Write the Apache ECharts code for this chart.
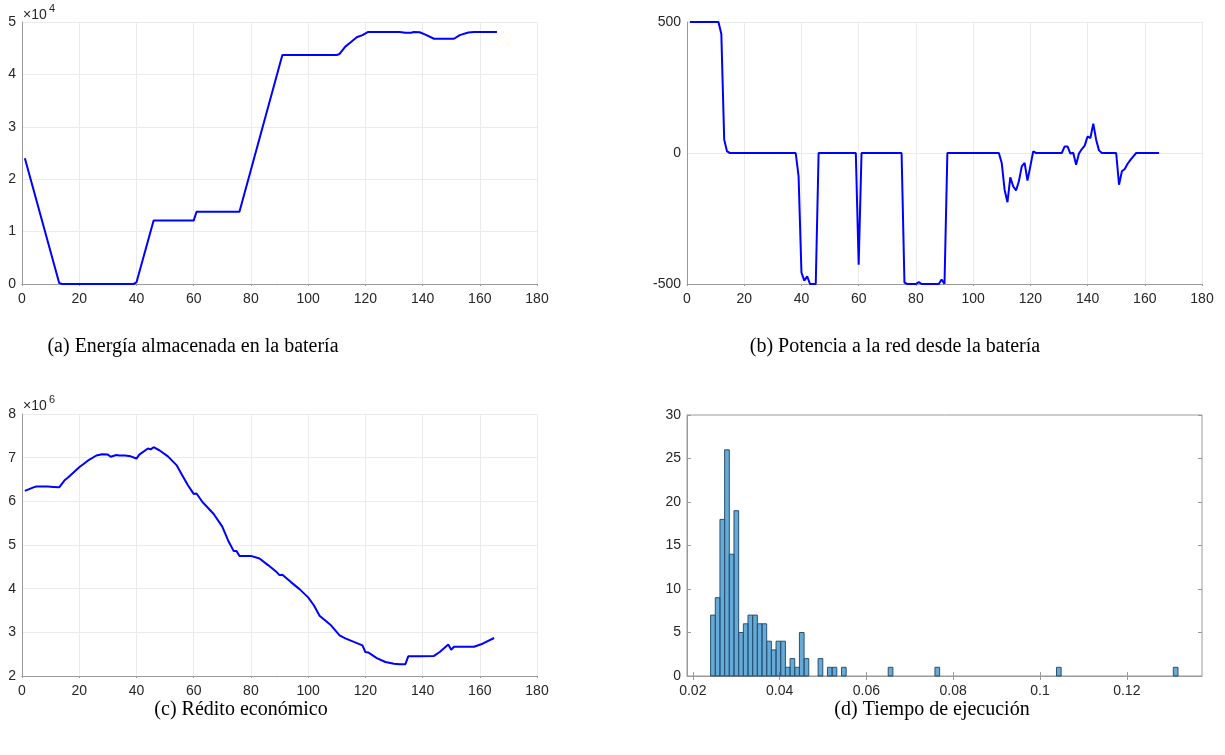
<!DOCTYPE html>
<html>
<head>
<meta charset="utf-8">
<script src="https://cdn.jsdelivr.net/npm/echarts@6/dist/echarts.min.js"></script>
<style>
html,body{margin:0;padding:0;background:#fff;}
#chart{width:1225px;height:755px;}
</style>
</head>
<body>
<div id="chart"></div>
<script>
// (a) Energía almacenada en la batería  (values in units of 10^4)
const energyX = [1, 13, 14, 39, 40, 46, 60, 61, 76, 91, 110, 111, 113, 115, 117, 119, 121, 132, 134, 136, 137, 139, 141, 144, 151, 153, 156, 158, 166];
const energyY = [2.40, 0.02, 0, 0, 0.03, 1.21, 1.21, 1.38, 1.38, 4.37, 4.37, 4.39, 4.53, 4.62, 4.71, 4.75, 4.81, 4.81, 4.795, 4.795, 4.81, 4.805, 4.76, 4.68, 4.68, 4.75, 4.80, 4.81, 4.81];

// (b) Potencia a la red desde la batería
const powerX = [1, 11, 12, 13, 14, 15, 38, 39, 40, 41, 42, 43, 45, 46, 59, 60, 61, 75, 76, 77, 80, 81, 82, 88, 89, 90, 91, 109, 110, 111, 112, 113, 114, 115, 116, 117, 118, 119, 120, 121, 122, 131, 132, 133, 134, 135, 136, 137, 138, 139, 140, 141, 142, 143, 144, 145, 150, 151, 152, 153, 154, 155, 156, 157, 165];
const powerY = [500, 500, 454, 51, 6, 0, 0, -89, -456, -487, -471, -500, -500, 0, 0, -426, 0, 0, -495, -500, -500, -493, -500, -500, -483, -500, 0, 0, -38, -140, -188, -93, -127, -143, -108, -51, -38, -105, -51, 6, 0, 0, 25, 25, -2, 1, -45, -2, 15, 28, 63, 57, 112, 51, 10, 0, 0, -121, -70, -61, -41, -26, -13, 0, 0];

// (c) Rédito económico (values in units of 10^6)
const profitX = [1, 4, 5, 9, 11, 13, 15, 16, 20, 23, 26, 28, 30, 31, 33, 34, 36, 38, 40, 41, 44, 45, 46, 48, 51, 54, 56, 58, 60, 61, 63, 67, 70, 72, 74, 75, 76, 80, 83, 86, 89, 90, 91, 94, 97, 100, 102, 104, 108, 111, 113, 116, 119, 120, 121, 124, 127, 130, 132, 134, 135, 139, 144, 146, 149, 150, 151, 158, 161, 165];
const profitY = [6.24, 6.32, 6.34, 6.34, 6.33, 6.32, 6.49, 6.54, 6.78, 6.93, 7.05, 7.08, 7.07, 7.02, 7.06, 7.05, 7.05, 7.03, 6.98, 7.07, 7.21, 7.19, 7.24, 7.17, 7.03, 6.83, 6.60, 6.37, 6.17, 6.18, 5.99, 5.71, 5.42, 5.11, 4.86, 4.86, 4.75, 4.75, 4.69, 4.54, 4.38, 4.31, 4.32, 4.15, 3.99, 3.80, 3.62, 3.38, 3.16, 2.93, 2.86, 2.78, 2.70, 2.55, 2.54, 2.41, 2.32, 2.28, 2.27, 2.27, 2.45, 2.45, 2.46, 2.55, 2.72, 2.60, 2.67, 2.67, 2.74, 2.87];

// (d) Tiempo de ejecución: histogram
const HIST_FIRST_EDGE = 0.0241;
const HIST_BIN_WIDTH = 0.001077;
const histBinIndex = [0, 1, 2, 3, 4, 5, 6, 7, 8, 9, 10, 11, 12, 13, 14, 15, 16, 17, 18, 19, 20, 23, 25, 26, 28, 38, 48, 74, 99];
const histCounts   = [7, 9, 18, 26, 14, 19, 5, 6, 7, 7, 6, 6, 4, 3, 4, 4, 1, 2, 1, 5, 2, 2, 1, 1, 1, 1, 1, 1, 1];
const histTicks = [0.02, 0.04, 0.06, 0.08, 0.1, 0.12];

const captions = ['(a) Energía almacenada en la batería', '(b) Potencia a la red desde la batería', '(c) Rédito económico', '(d) Tiempo de ejecución'];

const AX = '#9a9a9a', GRIDC = '#ebebeb', TXT = '#262626';
const LBL = {color: TXT, fontSize: 14, fontFamily: 'Liberation Sans, Arial, sans-serif'};

function lineX(gi) {
  return {type: 'value', gridIndex: gi, min: 0, max: 180, interval: 20,
    axisLine: {show: true, onZero: false, lineStyle: {color: AX}},
    axisTick: {show: true, inside: false, length: 2, lineStyle: {color: AX}},
    splitLine: {show: true, lineStyle: {color: GRIDC}},
    axisLabel: Object.assign({margin: 8}, LBL)};
}
function lineY(gi, min, max, interval) {
  return {type: 'value', gridIndex: gi, min: min, max: max, interval: interval,
    axisLine: {show: true, onZero: false, lineStyle: {color: AX}},
    axisTick: {show: false},
    splitLine: {show: true, lineStyle: {color: GRIDC}},
    axisLabel: Object.assign({margin: 6}, LBL)};
}
function pairs(xs, ys) { return xs.map((x, i) => [x, ys[i]]); }
const lineStyle = {color: '#0000ff', width: 2};

const histData = histBinIndex.map((b, i) => [HIST_FIRST_EDGE + b * HIST_BIN_WIDTH, HIST_FIRST_EDGE + (b + 1) * HIST_BIN_WIDTH, histCounts[i]]);

const chart = echarts.init(document.getElementById('chart'), null, {renderer: 'canvas'});
const capFont = '20px "Liberation Serif", "DejaVu Serif", serif';
const expFont = '14px "Liberation Sans", Arial, sans-serif';
const supFont = '11px "Liberation Sans", Arial, sans-serif';
const option = {
  animation: false,
  backgroundColor: '#ffffff',
  grid: [
    {left: 22, top: 22, width: 515, height: 262},
    {left: 687, top: 22, width: 515, height: 262},
    {left: 22, top: 414, width: 515, height: 262},
    {left: 687, top: 415, width: 515, height: 261, show: true, borderColor: AX, borderWidth: 1}
  ],
  xAxis: [
    lineX(0), lineX(1), lineX(2),
    {type: 'value', gridIndex: 3, min: 0.01866, max: 0.13733,
      axisLine: {show: true, onZero: false, lineStyle: {color: AX}},
      axisTick: {show: true, inside: true, length: 4, customValues: histTicks, lineStyle: {color: AX}},
      splitLine: {show: false},
      axisLabel: Object.assign({margin: 8, customValues: histTicks, formatter: v => String(+v.toFixed(2))}, LBL)},
    {type: 'value', gridIndex: 3, position: 'top', min: 0.01866, max: 0.13733,
      axisLine: {show: false}, splitLine: {show: false}, axisLabel: {show: false},
      axisTick: {show: true, inside: true, length: 4, customValues: histTicks, lineStyle: {color: AX}}}
  ],
  yAxis: [
    lineY(0, 0, 5, 1), lineY(1, -500, 500, 500), lineY(2, 2, 8, 1),
    {type: 'value', gridIndex: 3, min: 0, max: 30, interval: 5,
      axisLine: {show: true, onZero: false, lineStyle: {color: AX}},
      axisTick: {show: true, inside: true, length: 4, lineStyle: {color: AX}},
      splitLine: {show: false},
      axisLabel: Object.assign({margin: 6}, LBL)},
    {type: 'value', gridIndex: 3, position: 'right', min: 0, max: 30, interval: 5,
      axisLine: {show: false}, splitLine: {show: false}, axisLabel: {show: false},
      axisTick: {show: true, inside: true, length: 4, lineStyle: {color: AX}}}
  ],
  series: [
    {type: 'line', xAxisIndex: 0, yAxisIndex: 0, data: pairs(energyX, energyY), showSymbol: false, lineStyle: lineStyle},
    {type: 'line', xAxisIndex: 1, yAxisIndex: 1, data: pairs(powerX, powerY), showSymbol: false, lineStyle: lineStyle},
    {type: 'line', xAxisIndex: 2, yAxisIndex: 2, data: pairs(profitX, profitY), showSymbol: false, lineStyle: lineStyle},
    {type: 'custom', xAxisIndex: 3, yAxisIndex: 3, data: histData,
      encode: {x: [0, 1], y: 2},
      renderItem: function (params, api) {
        const p0 = api.coord([api.value(0), 0]);
        const p1 = api.coord([api.value(1), api.value(2)]);
        return {type: 'rect', shape: {x: p0[0], y: p1[1], width: p1[0] - p0[0], height: p0[1] - p1[1]},
          style: {fill: 'rgba(0,114,189,0.6)', stroke: '#2b5170', lineWidth: 1}};
      }}
  ],
  graphic: [
    {type: 'text', left: 23, top: 8, style: {text: '×10', font: expFont, fill: TXT}},
    {type: 'text', left: 49, top: 3, style: {text: '4', font: supFont, fill: TXT}},
    {type: 'text', left: 23, top: 399, style: {text: '×10', font: expFont, fill: TXT}},
    {type: 'text', left: 49, top: 394, style: {text: '6', font: supFont, fill: TXT}},
    {type: 'text', x: 193, y: 347, style: {text: captions[0], font: capFont, fill: '#000', textAlign: 'center', textVerticalAlign: 'middle'}},
    {type: 'text', x: 895, y: 347, style: {text: captions[1], font: capFont, fill: '#000', textAlign: 'center', textVerticalAlign: 'middle'}},
    {type: 'text', x: 241, y: 710, style: {text: captions[2], font: capFont, fill: '#000', textAlign: 'center', textVerticalAlign: 'middle'}},
    {type: 'text', x: 932, y: 710, style: {text: captions[3], font: capFont, fill: '#000', textAlign: 'center', textVerticalAlign: 'middle'}}
  ]
};
chart.setOption(option);
</script>
</body>
</html>
